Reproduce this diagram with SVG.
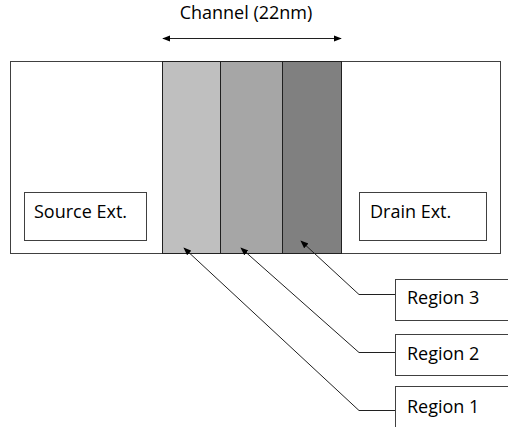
<svg xmlns="http://www.w3.org/2000/svg" width="508" height="427" viewBox="0 0 508 427">
<defs>
<style>
.t{font-family:"Open Sans","Liberation Sans",sans-serif;font-size:18px;fill:#000}
.box{fill:#fff;stroke:#404040;stroke-width:1}
.ln{fill:none;stroke:#202020;stroke-width:1}
</style>
<marker id="ah" viewBox="0 0 10 10" refX="9" refY="5" markerWidth="8" markerHeight="8" markerUnits="userSpaceOnUse" orient="auto-start-reverse">
<path d="M0,1 L10,5 L0,9 z" fill="#000"/>
</marker>
</defs>
<rect width="508" height="427" fill="#fff"/>
<g id="device">
<rect x="10.5" y="61.5" width="490" height="192" class="box"/>
</g>
<g id="region1-strip"><rect x="162.5" y="61.5" width="58" height="192" fill="#bfbfbf" stroke="#202020"/></g>
<g id="region2-strip"><rect x="220.5" y="61.5" width="62" height="192" fill="#a6a6a6" stroke="#202020"/></g>
<g id="region3-strip"><rect x="282.5" y="61.5" width="59" height="192" fill="#808080" stroke="#202020"/></g>
<g id="source"><rect x="24.5" y="192.5" width="122" height="48" class="box"/><text x="34" y="218" class="t">Source Ext.</text></g>
<g id="drain"><rect x="359.5" y="192.5" width="127" height="48" class="box"/><text x="370" y="218" class="t">Drain Ext.</text></g>
<g id="channel-label"><text x="246" y="19" class="t" text-anchor="middle">Channel (22nm)</text></g>
<g id="label3"><rect x="395.5" y="279.5" width="130" height="41" class="box"/><text x="407" y="304" class="t">Region 3</text></g>
<g id="label2"><rect x="395.5" y="334.5" width="130" height="41" class="box"/><text x="407" y="360" class="t">Region 2</text></g>
<g id="label1"><rect x="395.5" y="386.5" width="130" height="60" class="box"/><text x="407" y="413" class="t">Region 1</text></g>
<g id="connectors">
<line x1="163" y1="38.5" x2="341" y2="38.5" class="ln" marker-start="url(#ah)" marker-end="url(#ah)"/>
<polyline points="395,294.5 359,294.5 301,241" class="ln" marker-end="url(#ah)"/>
<polyline points="395,352.5 359,352.5 241,248" class="ln" marker-end="url(#ah)"/>
<polyline points="395,410.5 359,410.5 184,248" class="ln" marker-end="url(#ah)"/>
</g>
</svg>
